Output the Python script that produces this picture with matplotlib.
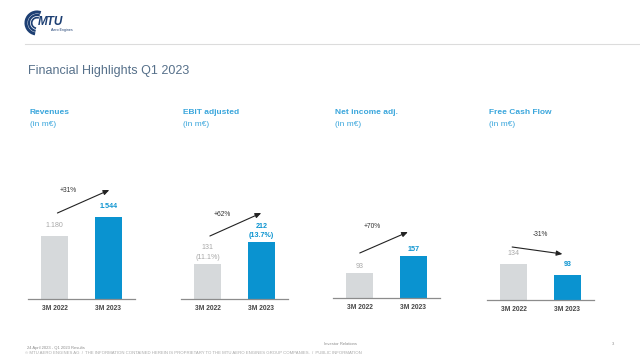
import numpy as np
import matplotlib.pyplot as plt
from matplotlib.patches import Arc

plt.rcParams['font.family'] = ['Liberation Sans', 'DejaVu Sans']

# data
titles = ["Revenues", "EBIT adjusted", "Net income adj.", "Free Cash Flow"]
periods = ["3M 2022", "3M 2023"]
values_2022 = [1180, 131, 93, 134]
values_2023 = [1544, 212, 157, 93]
labels_2022 = ["1.180", "131\n(11.1%)", "93", "134"]
labels_2023 = ["1.544", "212\n(13.7%)", "157", "93"]
changes = ["+31%", "+62%", "+70%", "-31%"]

W, H = 640, 359
fig = plt.figure(figsize=(W / 100, H / 100), dpi=100)

def fx(px):
    return px / W

def fy(py):
    return 1 - py / H

blue = "#0a93d0"
grey = "#d6d9db"
title_blue = "#3aa6dc"

# panel layout in pixels (left, baseline) and y-scale (px per unit)
lefts = [28, 181, 333, 487]
bases = [299, 299, 298, 300]
scales = [0.0534, 0.268, 0.268, 0.268]
ax_w, ax_h = 107, 149
# arrow (x0, y0px, x1, y1px) and change label (x, ypx)
arrows = [(0.05, 86, 1.02, 109), (0.04, 63, 1.0, 86), (0.0, 45, 0.9, 66), (-0.03, 53, 0.91, 46)]
chg_pos = [(0.25, 108), (0.27, 85), (0.23, 71), (0.49, 65)]

for i in range(4):
    ax = fig.add_axes([fx(lefts[i]), fy(bases[i]), fx(ax_w), ax_h / H])
    s = scales[i]
    ax.bar([0, 1], [values_2022[i], values_2023[i]], width=0.5,
           color=[grey, blue], zorder=2)
    ax.set_xlim(-0.5, 1.5)
    ax.set_ylim(0, ax_h / s)
    for sp in ["top", "right", "left"]:
        ax.spines[sp].set_visible(False)
    ax.spines["bottom"].set_color("#8c8c8c")
    ax.spines["bottom"].set_linewidth(0.9)
    ax.set_yticks([])
    ax.set_xticks([0, 1])
    ax.set_xticklabels(periods, fontsize=4.8, color="#444444", fontweight="bold")
    ax.tick_params(axis="x", length=0, pad=4)

    off = 7 if i in (0, 3) else 3
    ax.annotate(labels_2022[i], (0, values_2022[i]), xytext=(0, off * 0.72),
                textcoords="offset points", ha="center", va="bottom",
                fontsize=5.1, color="#a8a8a8", linespacing=1.5)
    ax.annotate(labels_2023[i], (1, values_2023[i]), xytext=(0, off * 0.72),
                textcoords="offset points", ha="center", va="bottom",
                fontsize=5.1, color=blue, fontweight="bold", linespacing=1.5)

    x0, y0, x1, y1 = arrows[i]
    ax.annotate("", xy=(x1, y1 / s), xytext=(x0, y0 / s),
                arrowprops=dict(arrowstyle="-|>,head_length=0.35,head_width=0.15",
                                color="#222222", lw=0.8, shrinkA=0, shrinkB=0),
                annotation_clip=False)
    cx, cy = chg_pos[i]
    ax.text(cx, cy / s, changes[i], ha="center", va="center", fontsize=4.8,
            color="#333333", clip_on=False)

    fig.text(fx(lefts[i] + 2), fy(113), titles[i], fontsize=6, fontweight="bold",
             color=title_blue, va="center")
    fig.text(fx(lefts[i] + 2), fy(124), "(in m€)", fontsize=6, color=title_blue,
             va="center")

# header
fig.text(fx(28), fy(71), "Financial Highlights Q1 2023", fontsize=9,
         color="#56708a", va="center")
fig.add_artist(plt.Line2D([fx(25), 1], [fy(44), fy(44)], color="#dcdcdc", lw=0.8))

# logo
lax = fig.add_axes([fx(20), fy(40), fx(60), 32 / H])
lax.set_xlim(20, 80)
lax.set_ylim(40, 8)
lax.axis("off")
for r, lw in [(11, 2.2), (8, 1.6), (5.3, 1.2)]:
    lax.add_patch(Arc((37, 23), 2 * r, 2 * r, theta1=100, theta2=290,
                      color="#1d3f73", lw=lw))
lax.text(50, 22, "MTU", fontsize=8.5, fontweight="bold", style="italic",
         color="#1d3f73", ha="center", va="center")
lax.text(62, 30, "Aero Engines", fontsize=2.6, color="#1d3f73", ha="center",
         va="center")

# footer
fig.text(fx(27), fy(348), "24 April 2023 - Q1 2023 Results", fontsize=3,
         color="#8c8c8c", va="center")
fig.text(fx(25), fy(353.5),
         "© MTU AERO ENGINES AG  /  THE INFORMATION CONTAINED HEREIN IS PROPRIETARY TO THE MTU AERO ENGINES GROUP COMPANIES.  /  PUBLIC INFORMATION",
         fontsize=3.1, color="#a8a8a8", va="center")
fig.text(fx(340), fy(344), "Investor Relations", fontsize=3, color="#8c8c8c",
         ha="center", va="center")
fig.text(fx(613), fy(344), "3", fontsize=3, color="#8c8c8c", ha="center",
         va="center")

plt.savefig("out.png", dpi=100)
